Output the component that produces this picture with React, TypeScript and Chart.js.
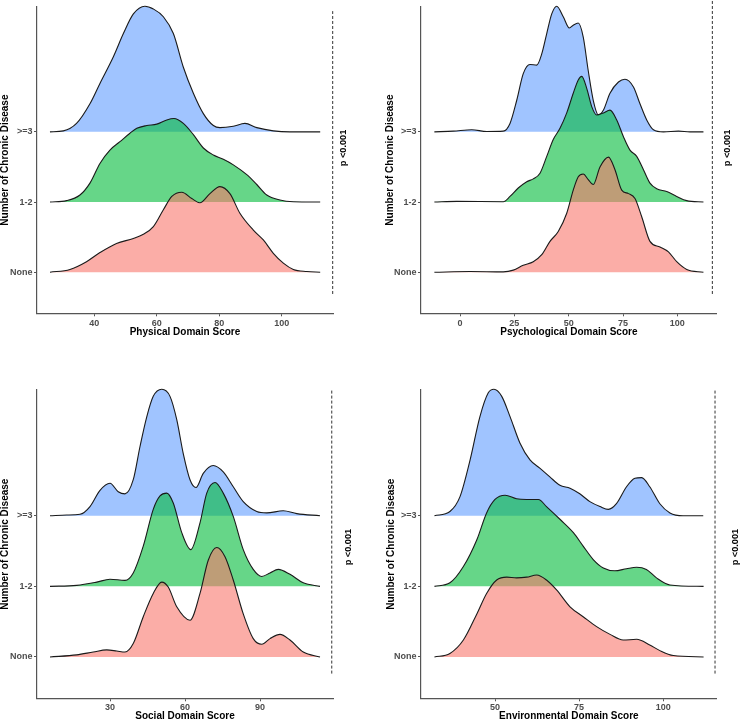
import React, { useEffect, useRef } from 'react';
import { Chart, registerables } from 'chart.js';

Chart.register(...registerables);

// ---------- DATA ----------
const groupLabels = ['None', '1-2', '>=3'];
const groupColors = ['rgba(248,118,109,0.6)', 'rgba(0,186,56,0.6)', 'rgba(97,156,255,0.6)'];
const pValueText = 'p <0.001';
const yTitle = 'Number of Chronic Disease';

const physicalTicks = [40, 60, 80, 100];
const psychologicalTicks = [0, 25, 50, 75, 100];
const socialTicks = [30, 60, 90];
const environmentalTicks = [50, 75, 100];

// [score, ridge height] pairs (height in units of one ridge spacing)
const physicalNone: number[][] = [[25.8, 0], [32.2, 0.04], [37.5, 0.15], [41.8, 0.28], [47.1, 0.41], [52.5, 0.48], [55.7, 0.54], [58.9, 0.65], [62.1, 0.89], [64.8, 1.08], [68.0, 1.14], [71.2, 1.05], [73.8, 0.99], [77.0, 1.12], [80.2, 1.22], [83.4, 1.12], [86.6, 0.84], [90.9, 0.6], [94.1, 0.46], [97.3, 0.27], [100.5, 0.13], [103.7, 0.04], [108.0, 0.01], [112.3, 0]];
const physicalOneTwo: number[][] = [[25.8, 0], [31.1, 0.02], [35.4, 0.1], [38.6, 0.27], [41.8, 0.55], [45.0, 0.74], [48.2, 0.86], [51.4, 0.98], [53.6, 1.05], [56.8, 1.09], [60.0, 1.11], [63.2, 1.17], [65.5, 1.19], [68.5, 1.12], [71.7, 0.96], [74.9, 0.77], [78.1, 0.67], [81.3, 0.61], [84.5, 0.53], [88.8, 0.39], [92.0, 0.25], [95.2, 0.1], [99.4, 0.03], [103.7, 0.005], [112.3, 0]];
const physicalThreePlus: number[][] = [[25.8, 0], [30.1, 0.014], [34.3, 0.12], [38.6, 0.4], [41.8, 0.69], [46.1, 1.07], [49.3, 1.4], [52.5, 1.68], [56.2, 1.79], [58.9, 1.75], [62.1, 1.64], [65.3, 1.4], [68.5, 0.92], [71.7, 0.55], [74.9, 0.26], [78.1, 0.09], [80.2, 0.06], [84.5, 0.08], [88.2, 0.12], [92.0, 0.06], [97.3, 0.014], [102.6, 0], [112.3, 0]];

const psychNone: number[][] = [[-11.8, 0], [4.6, 0.01], [19.9, 0.005], [24.5, 0.03], [29.1, 0.1], [33.7, 0.15], [37.6, 0.25], [41.4, 0.44], [45.2, 0.58], [49.1, 0.84], [52.1, 1.17], [54.4, 1.36], [56.7, 1.4], [59.0, 1.32], [61.3, 1.25], [64.4, 1.5], [68.3, 1.64], [71.3, 1.46], [74.4, 1.17], [77.5, 1.12], [80.5, 1.05], [83.6, 0.79], [87.4, 0.44], [92.0, 0.36], [95.9, 0.29], [99.7, 0.15], [104.3, 0.04], [112.0, 0]];
const psychOneTwo: number[][] = [[-11.8, 0], [-1.5, 0.01], [19.9, 0.005], [23.0, 0.08], [26.8, 0.2], [30.7, 0.29], [33.7, 0.33], [36.8, 0.41], [39.9, 0.65], [42.9, 0.89], [46.0, 1.05], [49.1, 1.27], [52.1, 1.55], [54.4, 1.74], [56.0, 1.79], [58.3, 1.62], [60.6, 1.36], [62.9, 1.24], [66.0, 1.27], [69.0, 1.31], [72.1, 1.17], [75.2, 0.93], [78.2, 0.74], [81.3, 0.65], [84.4, 0.46], [87.4, 0.27], [90.5, 0.19], [95.1, 0.15], [99.7, 0.08], [104.3, 0.02], [112.0, 0]];
const psychThreePlus: number[][] = [[-11.8, 0], [-3.1, 0.01], [5.4, 0.03], [12.3, 0.005], [19.9, 0.01], [23.0, 0.12], [26.1, 0.45], [29.1, 0.83], [32.2, 0.96], [35.3, 0.95], [37.6, 1.11], [39.9, 1.4], [42.2, 1.68], [44.5, 1.79], [47.5, 1.64], [50.3, 1.48], [52.1, 1.52], [54.4, 1.55], [56.7, 1.35], [59.0, 0.87], [61.3, 0.45], [63.7, 0.24], [66.0, 0.31], [69.0, 0.55], [72.9, 0.71], [75.9, 0.75], [79.8, 0.64], [82.8, 0.4], [85.9, 0.17], [89.0, 0.03], [93.6, 0], [100.5, 0.01], [105.8, 0], [112.0, 0]];

const socialNone: number[][] = [[6, 0], [16.7, 0.03], [23.3, 0.07], [28.7, 0.1], [32.7, 0.085], [36, 0.07], [39.3, 0.19], [43.3, 0.57], [47.3, 0.9], [50.7, 1.06], [53.3, 0.99], [56.7, 0.71], [62, 0.52], [66, 0.9], [69.3, 1.37], [72.7, 1.55], [76, 1.42], [79.3, 1.09], [83.3, 0.61], [87.3, 0.26], [90.7, 0.18], [94, 0.26], [98, 0.32], [102, 0.24], [107.3, 0.07], [114, 0]];
const socialOneTwo: number[][] = [[6, 0], [16.7, 0.014], [24.7, 0.06], [30, 0.1], [36, 0.085], [39.3, 0.19], [43.3, 0.57], [47.3, 1.09], [50, 1.28], [52.7, 1.32], [55.3, 1.18], [58.7, 0.76], [62.3, 0.52], [66, 0.9], [68.7, 1.32], [72, 1.47], [75.3, 1.32], [79.3, 0.99], [83.3, 0.52], [87.3, 0.24], [90.7, 0.14], [94, 0.19], [97.3, 0.24], [102, 0.17], [107.3, 0.05], [114, 0]];
const socialThreePlus: number[][] = [[6, 0], [12.7, 0.01], [18, 0.02], [22, 0.13], [26, 0.36], [30, 0.46], [33.3, 0.34], [36, 0.31], [39.3, 0.51], [42, 0.98], [44.7, 1.4], [47.3, 1.69], [50.7, 1.79], [54, 1.69], [56.7, 1.36], [59.3, 0.88], [62, 0.51], [64.4, 0.4], [67.3, 0.6], [71.3, 0.71], [75.3, 0.62], [79.3, 0.41], [83.3, 0.2], [88.7, 0.06], [92.7, 0.04], [99.3, 0.07], [104.7, 0.03], [114, 0]];

const envNone: number[][] = [[32, 0], [36.6, 0.05], [40.6, 0.24], [44.6, 0.61], [47.5, 0.9], [50.5, 1.09], [53.5, 1.13], [56.4, 1.12], [59.4, 1.13], [62.4, 1.16], [65.3, 1.09], [68.3, 0.95], [72.3, 0.71], [76.2, 0.57], [80.2, 0.43], [84.2, 0.32], [88.1, 0.24], [92.1, 0.25], [96.0, 0.17], [99.0, 0.09], [103.0, 0.02], [112, 0]];
const envOneTwo: number[][] = [[32, 0], [36.6, 0.05], [40.6, 0.28], [44.6, 0.66], [47.5, 1.04], [50, 1.23], [53.0, 1.29], [56.4, 1.24], [59.4, 1.23], [62.9, 1.23], [65.3, 1.13], [69.3, 0.95], [73.3, 0.76], [76.2, 0.57], [79.2, 0.38], [82.2, 0.26], [85.6, 0.22], [89.1, 0.25], [92.1, 0.27], [95.0, 0.24], [98.0, 0.12], [102.0, 0.02], [112, 0]];
const envThreePlus: number[][] = [[32, 0], [36.6, 0.06], [39.6, 0.27], [42.6, 0.79], [45.5, 1.4], [48.0, 1.74], [49.7, 1.79], [52.0, 1.69], [54.5, 1.4], [57.4, 1.03], [60.4, 0.79], [63.4, 0.67], [66.3, 0.55], [69.3, 0.43], [72.3, 0.39], [75.2, 0.31], [78.2, 0.2], [81.2, 0.13], [83.7, 0.09], [86.1, 0.17], [89.1, 0.41], [91.6, 0.53], [93.6, 0.54], [96.0, 0.41], [99.0, 0.17], [102.0, 0.04], [105.9, 0], [111.9, 0]];

// ---------- LAYOUT ----------
const FONT = '"Liberation Sans", Arial, sans-serif';
const Y_MIN = 0.415;
const Y_MAX = 4.78;

type Panel = {
  title: string; ticks: number[]; series: number[][][];
  xMin: number; xMax: number; dashX: number; dashY: number[]; textY: number; textDx: number;
  left: number; top: number; w: number; h: number; padTop: number; padRight: number;
  yAxisW: number; xAxisH: number; xTitlePad: number; yTitlePad: number; xTickPad: number;
};

const panels: Panel[] = [
  { title: 'Physical Domain Score', ticks: physicalTicks, series: [physicalNone, physicalOneTwo, physicalThreePlus],
    xMin: 21.65, xMax: 116.4, dashX: 116.3, dashY: [0.69, 4.72], textY: 2.77, textDx: 10.5,
    left: 0, top: 0, w: 370, h: 345, padTop: 6.7, padRight: 37, yAxisW: 37, xAxisH: 31.7, xTitlePad: 7.5, yTitlePad: 0, xTickPad: 2 },
  { title: 'Psychological Domain Score', ticks: psychologicalTicks, series: [psychNone, psychOneTwo, psychThreePlus],
    xMin: -17.95, xMax: 118.1, dashX: 116.1, dashY: [0.69, 4.88], textY: 2.77, textDx: 10.3,
    left: 370, top: 0, w: 370, h: 345, padTop: 6.7, padRight: 23.3, yAxisW: 51, xAxisH: 31.7, xTitlePad: 7.5, yTitlePad: 15, xTickPad: 2 },
  { title: 'Social Domain Score', ticks: socialTicks, series: [socialNone, socialOneTwo, socialThreePlus],
    xMin: 0.8, xMax: 119.2, dashX: 118.7, dashY: [0.765, 4.78], textY: 2.556, textDx: 15,
    left: 0, top: 360, w: 370, h: 364, padTop: 30, padRight: 37, yAxisW: 37, xAxisH: 25.7, xTitlePad: 3, yTitlePad: 0, xTickPad: 1 },
  { title: 'Environmental Domain Score', ticks: environmentalTicks, series: [envNone, envOneTwo, envThreePlus],
    xMin: 28.0, xMax: 115.9, dashX: 115.4, dashY: [0.765, 4.78], textY: 2.556, textDx: 18.3,
    left: 370, top: 360, w: 370, h: 364, padTop: 30, padRight: 23.3, yAxisW: 51, xAxisH: 25.7, xTitlePad: 3, yTitlePad: 16, xTickPad: 1 },
];

const pTextPlugin = {
  id: 'pText',
  afterDraw(chart: any, _args: any, opts: any) {
    const { ctx, chartArea, scales } = chart;
    const x = chartArea.right + opts.dx;
    const y = scales.y.getPixelForValue(opts.yValue);
    ctx.save();
    ctx.translate(x, y);
    ctx.rotate(-Math.PI / 2);
    ctx.font = `bold 9.2px ${FONT}`;
    ctx.fillStyle = '#000';
    ctx.textAlign = 'center';
    ctx.textBaseline = 'middle';
    ctx.fillText(opts.text, 0, 0);
    ctx.restore();
  },
};

function buildConfig(p: Panel): any {
  const datasets: any[] = p.series.map((s, i) => ({
    label: groupLabels[i],
    data: s.map(([x, hgt]) => ({ x, y: i + 1 + hgt })),
    borderColor: '#1a1a1a',
    borderWidth: 1.1,
    backgroundColor: groupColors[i],
    fill: { value: i + 1 },
    pointRadius: 0,
    cubicInterpolationMode: 'monotone',
    clip: false,
  }));
  datasets.push({
    label: 'p',
    data: [{ x: p.dashX, y: p.dashY[0] }, { x: p.dashX, y: p.dashY[1] }],
    borderColor: '#333',
    borderWidth: 1,
    borderDash: [3, 2],
    pointRadius: 0,
    fill: false,
    clip: false,
  });
  const tickFont = { family: FONT, size: 9, weight: 'bold' as const };
  const titleFont = { family: FONT, size: 10, weight: 'bold' as const, lineHeight: 1 };
  return {
    type: 'line',
    data: { datasets },
    plugins: [pTextPlugin],
    options: {
      animation: false,
      responsive: false,
      maintainAspectRatio: false,
      events: [],
      layout: { padding: { top: p.padTop, right: p.padRight, bottom: 0, left: 0 } },
      plugins: {
        legend: { display: false },
        tooltip: { enabled: false },
        pText: { dx: p.textDx, yValue: p.textY, text: pValueText },
      },
      scales: {
        x: {
          type: 'linear',
          min: p.xMin,
          max: p.xMax,
          afterBuildTicks: (s: any) => { s.ticks = p.ticks.map((v) => ({ value: v })); },
          afterFit: (s: any) => { s.height = p.xAxisH; },
          grid: { drawOnChartArea: false, drawTicks: true, tickLength: 3, color: '#555', lineWidth: 1 },
          border: { display: true, color: '#555', width: 1.2 },
          ticks: { font: tickFont, color: '#4D4D4D', padding: p.xTickPad, autoSkip: false, maxRotation: 0, callback: (v: any) => String(v) },
          title: { display: true, text: p.title, font: titleFont, color: '#000', padding: { top: 0, bottom: p.xTitlePad } },
        },
        y: {
          type: 'linear',
          min: Y_MIN,
          max: Y_MAX,
          afterBuildTicks: (s: any) => { s.ticks = [1, 2, 3].map((v) => ({ value: v })); },
          afterFit: (s: any) => { s.width = p.yAxisW; },
          grid: { drawOnChartArea: false, drawTicks: true, tickLength: 3, color: '#555', lineWidth: 1 },
          border: { display: true, color: '#555', width: 1.2 },
          ticks: { font: tickFont, color: '#4D4D4D', padding: 1.5, autoSkip: false, callback: (v: any) => groupLabels[Math.round(v) - 1] },
          title: { display: true, text: yTitle, font: titleFont, color: '#000', padding: { top: p.yTitlePad, bottom: 0 } },
        },
      },
    },
  };
}

function RidgePanel({ p }: { p: Panel }) {
  const ref = useRef<HTMLCanvasElement>(null);
  useEffect(() => {
    const chart = new Chart(ref.current as HTMLCanvasElement, buildConfig(p));
    return () => chart.destroy();
  }, [p]);
  return (
    <canvas
      ref={ref}
      width={p.w}
      height={p.h}
      style={{ position: 'absolute', left: p.left, top: p.top, width: p.w, height: p.h }}
    />
  );
}

export default function App() {
  return (
    <div style={{ position: 'fixed', left: 0, top: 0, width: 740, height: 720, overflow: 'hidden', background: '#fff' }}>
      {panels.map((p, i) => <RidgePanel key={i} p={p} />)}
    </div>
  );
}
